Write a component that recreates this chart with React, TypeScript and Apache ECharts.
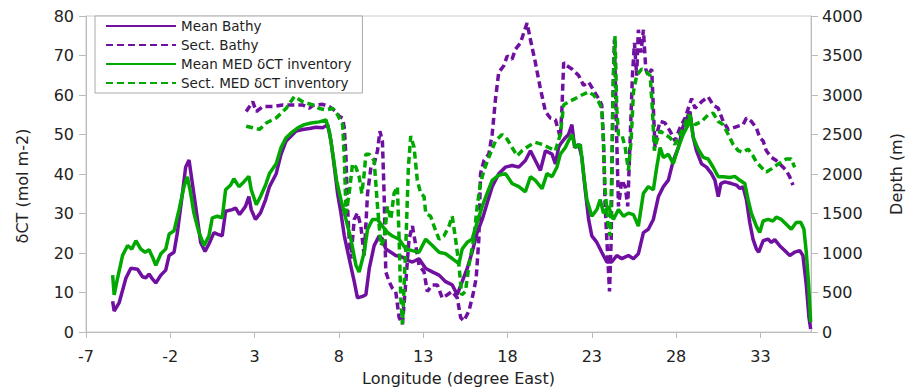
import React, { useEffect, useRef } from "react";
import * as echarts from "echarts";

// Longitude (degree East) vs mean bathymetry depth (m)
const meanBathy: [number, number][] = [
  [-5.42, 390], [-5.33, 265], [-5.03, 373], [-4.63, 683], [-4.34, 807], [-3.94, 795], [-3.65, 699],
  [-3.45, 687], [-3.26, 733], [-3.1, 683], [-2.86, 621], [-2.56, 720], [-2.27, 783], [-2.07, 969],
  [-1.78, 1010], [-1.58, 1258], [-1.28, 1755], [-1.09, 2087], [-0.89, 2178], [-0.69, 1879],
  [-0.44, 1507], [-0.2, 1134], [0.06, 1019], [0.29, 1114], [0.59, 1258], [0.79, 1238], [1.08, 1217],
  [1.28, 1528], [1.68, 1549], [1.87, 1569], [2.11, 1487], [2.46, 1590], [2.66, 1714], [2.8, 1549],
  [3.05, 1425], [3.35, 1507], [3.65, 1673], [3.88, 1838], [4.28, 2004], [4.57, 2252], [4.87, 2419],
  [5.17, 2481], [5.46, 2543], [5.85, 2563], [6.25, 2575], [6.64, 2592], [7.03, 2584], [7.33, 2625],
  [7.53, 2419], [7.73, 2087], [7.92, 1755], [8.12, 1507], [8.32, 1217], [8.61, 928], [8.91, 637],
  [9.1, 431], [9.4, 451], [9.6, 472], [9.8, 804], [10.09, 1093], [10.39, 1217], [10.58, 1176],
  [10.78, 1052], [11.08, 1010], [11.37, 969], [11.77, 948], [12.06, 907], [12.36, 886], [12.75, 928],
  [13.15, 804], [13.54, 761], [13.94, 720], [14.33, 637], [14.72, 596], [15.02, 472], [15.31, 637],
  [15.61, 804], [15.9, 1010], [16.2, 1258], [16.5, 1425], [16.79, 1631], [17.09, 1838], [17.48, 2004],
  [17.88, 2087], [18.27, 2108], [18.67, 2087], [19.06, 2170], [19.36, 2294], [19.65, 2170],
  [19.95, 2046], [20.25, 2294], [20.64, 2252], [20.84, 2128], [21.03, 2335], [21.13, 2376],
  [21.43, 2460], [21.62, 2501], [21.82, 2625], [21.98, 2335], [22.22, 2376], [22.41, 2211],
  [22.61, 1797], [22.81, 1425], [23.0, 1217], [23.3, 1134], [23.59, 1010], [23.89, 886], [24.18, 886],
  [24.48, 969], [24.78, 928], [25.17, 969], [25.47, 928], [25.76, 990], [26.06, 1258], [26.35, 1300],
  [26.65, 1425], [26.95, 1714], [27.24, 1838], [27.54, 1922], [27.83, 2170], [28.13, 2335],
  [28.42, 2609], [28.82, 2791], [29.02, 2460], [29.21, 2294], [29.51, 2128], [29.8, 2087],
  [30.1, 2004], [30.3, 1922], [30.5, 1714], [30.65, 1879], [30.89, 1901], [31.28, 1879], [31.58, 1860],
  [31.78, 1817], [31.97, 1838], [32.17, 1673], [32.37, 1383], [32.56, 1176], [32.76, 1052],
  [32.9, 1010], [33.16, 1155], [33.45, 1176], [33.65, 1134], [33.85, 1168], [34.14, 1093],
  [34.44, 1031], [34.74, 969], [35.03, 1010], [35.33, 1031], [35.52, 969], [35.72, 596], [35.88, 183],
  [35.98, 37],
];

// Longitude vs section bathymetry depth (m)
const sectBathy: [number, number][] = [
  [2.5, 2791], [2.89, 2915], [3.1, 2791], [3.49, 2853], [4.08, 2853], [4.67, 2873], [5.26, 2873],
  [5.85, 2873], [6.25, 2832], [6.44, 2866], [7.03, 2882], [7.43, 2853], [7.83, 2791], [8.02, 2729],
  [8.22, 2708], [8.32, 2584], [8.42, 2211], [8.51, 1590], [8.61, 1176], [8.71, 928], [8.91, 1425],
  [9.1, 1507], [9.3, 1342], [9.5, 969], [9.7, 1755], [9.9, 2087], [10.09, 2128], [10.29, 2294],
  [10.43, 2543], [10.58, 2419], [10.68, 1755], [10.78, 761], [10.98, 637], [11.17, 555], [11.37, 513],
  [11.57, 183], [11.77, 99], [11.97, 637], [12.16, 1176], [12.36, 1342], [12.56, 1093], [12.75, 845],
  [13.05, 761], [13.24, 513], [13.54, 596], [13.84, 596], [14.13, 431], [14.43, 472], [14.72, 513],
  [15.02, 431], [15.22, 183], [15.41, 140], [15.71, 265], [15.95, 472], [16.14, 679], [16.3, 1176],
  [16.4, 2004], [16.6, 2170], [16.89, 2252], [17.09, 2501], [17.29, 2956], [17.48, 3288],
  [17.78, 3370], [17.98, 3494], [18.27, 3453], [18.47, 3578], [18.77, 3661], [18.96, 3785],
  [19.16, 3909], [19.36, 3702], [19.65, 3412], [19.95, 3081], [20.25, 2791], [20.54, 2708],
  [20.84, 2687], [21.03, 2543], [21.13, 2460], [21.23, 2832], [21.33, 3412], [21.52, 3370],
  [21.82, 3329], [22.22, 3246], [22.51, 3122], [22.81, 3164], [23.1, 3060], [23.4, 2956],
  [23.59, 2873], [23.69, 2419], [23.79, 1590], [23.95, 928], [24.05, 513], [24.15, 1176],
  [24.24, 2832], [24.34, 3702], [24.48, 2419], [24.58, 1590], [24.78, 1922], [24.98, 1838],
  [25.13, 1590], [25.27, 2419], [25.41, 3246], [25.53, 3661], [25.66, 3246], [25.76, 3826],
  [25.92, 3537], [26.06, 3826], [26.2, 3329], [26.35, 3246], [26.55, 3329], [26.65, 2832],
  [26.75, 2335], [26.85, 2501], [27.05, 2667], [27.34, 2646], [27.64, 2543], [27.93, 2419],
  [28.23, 2584], [28.53, 2708], [28.92, 2956], [29.12, 2832], [29.51, 2915], [29.9, 2977],
  [30.2, 2873], [30.5, 2832], [30.79, 2667], [31.09, 2563], [31.38, 2584], [31.68, 2605],
  [31.97, 2625], [32.17, 2708], [32.46, 2667], [32.76, 2584], [32.96, 2460], [33.16, 2419],
  [33.35, 2294], [33.65, 2211], [33.94, 2170], [34.24, 2108], [34.53, 2046], [34.74, 1963],
  [34.93, 1860],
];

// Longitude vs mean MED δCT inventory (mol m-2)
const meanMed: [number, number][] = [
  [-5.42, 14.4], [-5.33, 9.4], [-5.13, 13.6], [-4.83, 19.4], [-4.53, 21.9], [-4.28, 21.0],
  [-4.04, 23.1], [-3.75, 21.0], [-3.49, 20.2], [-3.26, 20.8], [-3.06, 19.0], [-2.86, 16.9],
  [-2.56, 19.8], [-2.27, 21.0], [-2.07, 24.8], [-1.78, 25.6], [-1.48, 31.0], [-1.19, 36.8],
  [-0.99, 39.3], [-0.79, 35.1], [-0.6, 30.1], [-0.3, 25.2], [0.0, 21.9], [0.29, 24.3], [0.49, 28.9],
  [0.79, 29.3], [1.08, 28.9], [1.28, 36.0], [1.58, 37.2], [1.77, 38.8], [2.07, 36.8], [2.36, 38.0],
  [2.66, 39.4], [2.8, 36.0], [3.1, 32.2], [3.35, 34.3], [3.65, 37.2], [3.88, 40.1], [4.28, 42.6],
  [4.57, 46.7], [4.87, 49.2], [5.17, 50.4], [5.56, 51.7], [5.95, 52.5], [6.35, 52.9], [6.84, 53.2],
  [7.23, 53.7], [7.43, 50.9], [7.67, 44.2], [7.86, 38.4], [8.12, 33.5], [8.42, 28.5], [8.71, 23.5],
  [9.01, 16.9], [9.2, 15.2], [9.5, 20.2], [9.7, 26.0], [9.99, 28.5], [10.29, 28.5], [10.58, 26.8],
  [10.88, 25.2], [11.17, 24.3], [11.57, 23.5], [11.97, 21.0], [12.36, 20.6], [12.75, 20.2],
  [13.15, 23.5], [13.54, 21.9], [13.94, 20.2], [14.33, 19.8], [14.72, 18.6], [15.12, 17.3],
  [15.31, 21.0], [15.61, 22.7], [15.9, 23.5], [16.2, 27.7], [16.5, 31.8], [16.79, 35.1],
  [17.09, 38.4], [17.48, 39.7], [17.88, 40.1], [18.27, 37.6], [18.67, 36.8], [19.06, 35.5],
  [19.36, 39.3], [19.65, 38.4], [20.05, 36.3], [20.34, 40.1], [20.64, 39.3], [20.93, 41.7],
  [21.13, 45.0], [21.43, 46.7], [21.62, 48.4], [21.82, 50.0], [22.02, 46.7], [22.32, 47.5],
  [22.51, 40.1], [22.71, 33.5], [23.0, 29.3], [23.3, 31.0], [23.5, 33.5], [23.69, 30.1], [23.99, 31.8],
  [24.28, 28.5], [24.58, 31.0], [24.88, 29.3], [25.17, 30.1], [25.47, 29.7], [25.76, 26.8],
  [26.06, 35.1], [26.35, 36.8], [26.65, 36.0], [26.85, 41.7], [27.05, 46.7], [27.24, 44.2],
  [27.54, 45.0], [27.83, 42.6], [28.13, 46.7], [28.42, 50.0], [28.72, 52.5], [28.82, 55.0],
  [29.02, 49.2], [29.31, 46.3], [29.61, 44.2], [29.9, 43.8], [30.2, 41.7], [30.5, 39.3], [30.79, 39.3],
  [31.19, 39.1], [31.48, 39.4], [31.78, 38.4], [32.07, 37.6], [32.27, 33.5], [32.46, 30.1],
  [32.76, 26.8], [32.96, 25.2], [33.16, 28.1], [33.45, 28.5], [33.75, 28.1], [33.94, 29.1],
  [34.24, 28.5], [34.53, 27.3], [34.83, 26.0], [35.12, 27.7], [35.39, 27.8], [35.58, 26.0],
  [35.72, 20.2], [35.86, 11.9], [35.98, 2.5],
];

// Longitude vs section MED δCT inventory (mol m-2)
const sectMed: [number, number][] = [
  [2.5, 52.1], [2.89, 51.7], [3.29, 51.3], [3.69, 52.9], [4.28, 54.2], [4.87, 56.6], [5.36, 59.6],
  [5.85, 58.3], [6.44, 57.5], [6.84, 56.6], [7.23, 56.2], [7.63, 56.6], [7.92, 55.0], [8.22, 52.5],
  [8.32, 44.2], [8.42, 30.1], [8.61, 35.1], [8.81, 42.6], [9.01, 41.7], [9.2, 39.3], [9.36, 35.1],
  [9.5, 40.1], [9.6, 45.0], [9.8, 45.0], [10.09, 43.4], [10.29, 31.8], [10.49, 21.9], [10.68, 23.5],
  [10.88, 31.8], [11.08, 28.5], [11.27, 35.1], [11.47, 36.8], [11.57, 23.5], [11.67, 8.6],
  [11.77, 2.0], [11.97, 21.9], [12.12, 41.7], [12.26, 49.6], [12.46, 46.7], [12.65, 38.4],
  [12.85, 35.1], [13.05, 34.3], [13.15, 30.1], [13.44, 29.3], [13.64, 26.8], [13.94, 23.5],
  [14.23, 24.3], [14.53, 26.8], [14.72, 29.3], [14.92, 23.5], [15.12, 16.9], [15.28, 9.4],
  [15.51, 10.3], [15.71, 16.9], [16.0, 23.5], [16.2, 31.8], [16.4, 37.6], [16.6, 40.9], [16.89, 44.2],
  [17.29, 48.4], [17.68, 50.0], [17.98, 48.8], [18.27, 46.7], [18.57, 44.6], [18.86, 45.9],
  [19.26, 47.1], [19.65, 48.0], [20.05, 47.5], [20.44, 46.7], [20.84, 45.9], [21.13, 50.0],
  [21.33, 57.5], [21.62, 58.3], [22.02, 59.1], [22.41, 60.0], [22.81, 60.8], [23.1, 60.0],
  [23.4, 58.3], [23.59, 56.6], [23.69, 48.4], [23.79, 36.0], [23.95, 27.7], [24.09, 24.3],
  [24.18, 40.1], [24.28, 64.9], [24.38, 74.9], [24.48, 56.6], [24.58, 50.0], [24.78, 50.0],
  [24.98, 46.7], [25.17, 40.9], [25.33, 48.4], [25.47, 60.8], [25.66, 64.9], [25.96, 66.6],
  [26.25, 65.8], [26.46, 64.9], [26.59, 56.6], [26.71, 45.9], [26.85, 48.4], [27.05, 50.9],
  [27.34, 50.0], [27.64, 49.2], [27.93, 47.5], [28.23, 50.0], [28.53, 52.5], [28.72, 55.0],
  [29.12, 52.5], [29.51, 53.3], [29.9, 55.0], [30.2, 55.4], [30.5, 53.3], [30.79, 52.5], [31.09, 50.0],
  [31.38, 47.5], [31.68, 45.9], [31.97, 45.5], [32.27, 46.3], [32.56, 44.6], [32.76, 43.0],
  [33.05, 41.7], [33.35, 40.5], [33.65, 41.3], [33.94, 42.2], [34.24, 43.0], [34.53, 43.8],
  [34.83, 43.8], [35.03, 41.7],
];

const seriesNames = [
  "Mean Bathy",
  "Sect. Bathy",
  "Mean MED δCT inventory",
  "Sect. MED δCT inventory",
];

const PURPLE = "#7010a0";
const GREEN = "#00a800";
const FONT = "DejaVu Sans";

export default function App() {
  const ref = useRef<HTMLDivElement>(null);

  useEffect(() => {
    if (!ref.current) return;
    const chart = echarts.init(ref.current, undefined, { renderer: "svg" });
    const axisLabel = { fontFamily: FONT, fontSize: 16, color: "#222" };
    const mkLine = (name: string, data: [number, number][], color: string, dashed: boolean, yIdx: number) => ({
      name,
      type: "line",
      data,
      yAxisIndex: yIdx,
      symbol: "none",
      showSymbol: false,
      smooth: false,
      lineStyle: { color, width: 3.5, type: dashed ? [7, 4] : "solid" },
      itemStyle: { color },
      emphasis: { disabled: true },
    });
    chart.setOption({
      animation: false,
      backgroundColor: "#ffffff",
      grid: {
        left: 86,
        right: 98,
        top: 16,
        bottom: 53,
        show: true,
        borderColor: "#cccccc",
        borderWidth: 1,
        containLabel: false,
      },
      legend: {
        data: seriesNames,
        orient: "vertical",
        left: 95,
        top: 16,
        padding: [3, 11, 3, 10],
        itemWidth: 70,
        itemHeight: 14,
        itemGap: 5,
        backgroundColor: "#ffffff",
        borderColor: "#aaaaaa",
        borderWidth: 1,
        itemStyle: { color: "rgba(0,0,0,0)", borderColor: "rgba(0,0,0,0)", borderWidth: 0 },
        textStyle: { fontFamily: FONT, fontSize: 13.5, color: "#222" },
        selectedMode: false,
      },
      xAxis: {
        type: "value",
        min: -7,
        max: 36,
        interval: 5,
        name: "Longitude (degree East)",
        nameLocation: "middle",
        nameGap: 38,
        nameTextStyle: { fontFamily: FONT, fontSize: 16, color: "#222", padding: [0, 0, 0, 20] },
        axisLine: { show: true, onZero: false, lineStyle: { color: "#bbbbbb", width: 1 } },
        axisTick: { show: true, inside: false, length: 6, lineStyle: { color: "#bbbbbb" } },
        axisLabel: { ...axisLabel, margin: 16, showMaxLabel: false },
        splitLine: { show: false },
      },
      yAxis: [
        {
          type: "value",
          min: 0,
          max: 80,
          interval: 10,
          position: "left",
          name: "δCT (mol m-2)",
          nameLocation: "middle",
          nameGap: 56,
          nameTextStyle: { fontFamily: FONT, fontSize: 16, color: "#222", padding: [0, 24, 0, 0] },
          axisLine: { show: true, onZero: false, lineStyle: { color: "#bbbbbb", width: 1 } },
          axisTick: { show: true, inside: false, length: 7, lineStyle: { color: "#bbbbbb" } },
          axisLabel: { ...axisLabel, margin: 12 },
          splitLine: { show: false },
        },
        {
          type: "value",
          min: 0,
          max: 4000,
          interval: 500,
          position: "right",
          name: "Depth (m)",
          nameLocation: "middle",
          nameGap: 77,
          nameTextStyle: { fontFamily: FONT, fontSize: 16, color: "#222" },
          axisLine: { show: true, onZero: false, lineStyle: { color: "#bbbbbb", width: 1 } },
          axisTick: { show: true, inside: false, length: 7, lineStyle: { color: "#bbbbbb" } },
          axisLabel: { ...axisLabel, margin: 11, formatter: (v: number) => String(v) },
          splitLine: { show: false },
        },
      ],
      series: [
        mkLine(seriesNames[0], meanBathy, PURPLE, false, 1),
        mkLine(seriesNames[1], sectBathy, PURPLE, true, 1),
        mkLine(seriesNames[2], meanMed, GREEN, false, 0),
        mkLine(seriesNames[3], sectMed, GREEN, true, 0),
      ],
    });
    return () => chart.dispose();
  }, []);

  return (
    <div
      ref={ref}
      style={{ position: "absolute", left: 0, top: 0, width: 912, height: 391 }}
    />
  );
}
